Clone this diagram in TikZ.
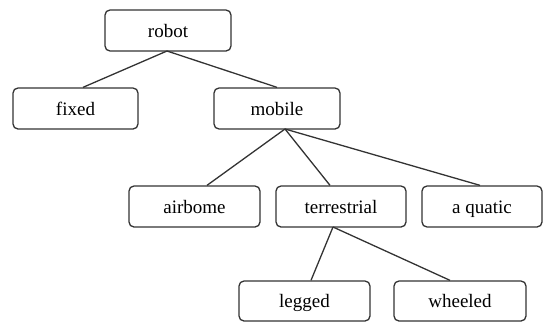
\documentclass[tikz,border=0pt]{standalone}
\usepackage{fontspec}
\setmainfont{Liberation Serif}
\begin{document}
\begin{tikzpicture}[x=1pt,y=-1pt,
  box/.style={draw=black!80, line width=1.3pt, rounded corners=5pt, inner sep=0pt},
  lbl/.style={font=\fontsize{19}{22}\selectfont, anchor=base, inner sep=0pt},
  link/.style={draw=black!80, line width=1.3pt}]
\useasboundingbox (0,0) rectangle (544,322);
\newcommand{\bx}[6]{\node[box, minimum width=#4-#2, minimum height=#5-#3] (#1) at ({(#2+#4)/2},{(#3+#5)/2}) {};
  \node[lbl] at ({(#2+#4)/2},{(#3+#5)/2+6.5}) {#6};}
\bx{robot}{105}{10}{231}{51}{robot}
\bx{fixed}{13}{88}{138}{129}{fixed}
\bx{mobile}{214}{88}{340}{129}{mobile}
\bx{airbome}{129}{186}{260}{227}{airbome}
\bx{terrestrial}{276}{186}{406}{227}{terrestrial}
\bx{aquatic}{422}{186}{542}{227}{a quatic}
\bx{legged}{239}{281}{370}{321}{legged}
\bx{wheeled}{394}{281}{526}{321}{wheeled}
\coordinate (robotb) at (167,51);
\coordinate (mobileb) at (285,129);
\coordinate (terrb) at (333,227);
\draw[link] (robotb) -- (fixed.north -| 83,0);
\draw[link] (robotb) -- (mobile.north -| 277,0);
\draw[link] (mobileb) -- (airbome.north -| 207,0);
\draw[link] (mobileb) -- (terrestrial.north -| 330,0);
\draw[link] (mobileb) -- (aquatic.north -| 480,0);
\draw[link] (terrb) -- (legged.north -| 311,0);
\draw[link] (terrb) -- (wheeled.north -| 450,0);
\end{tikzpicture}
\end{document}
